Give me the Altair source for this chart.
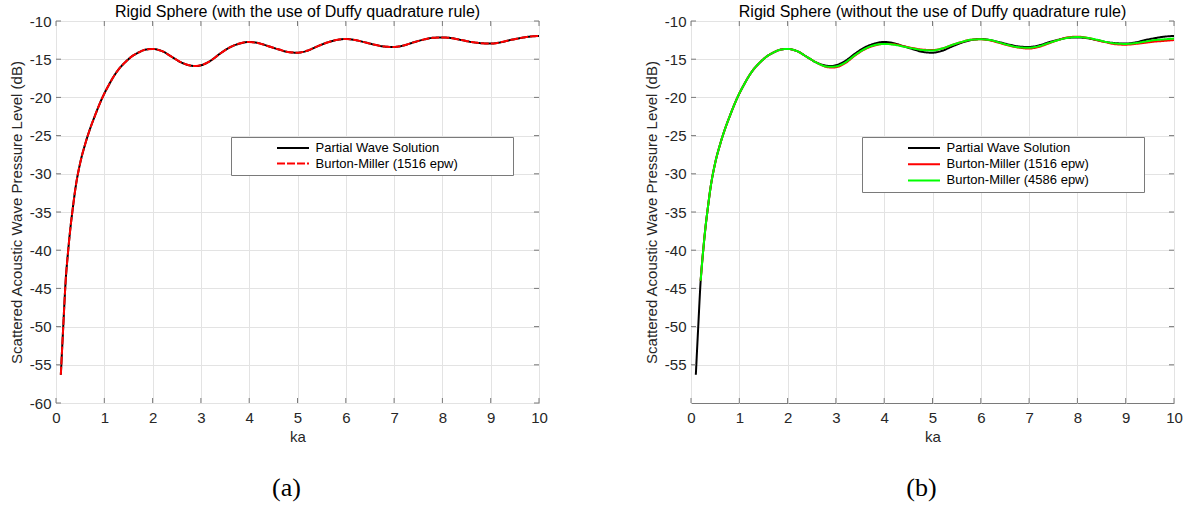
import altair as alt
import pandas as pd

# ---------------------------------------------------------------- data
# ka samples shared by the partial wave solution and the Duffy BEM run
KA = [0.1, 0.15, 0.2, 0.25, 0.3, 0.35, 0.4, 0.5, 0.6, 0.7, 0.8, 0.9, 1.0,
      1.1, 1.2, 1.3, 1.4, 1.5, 1.6, 1.7, 1.8, 1.9, 2.0, 2.1, 2.2, 2.4, 2.6,
      2.8, 2.9, 3.0, 3.2, 3.4, 3.6, 3.8, 4.0, 4.2, 4.4, 4.6, 4.8, 5.0, 5.2,
      5.4, 5.6, 5.8, 6.0, 6.2, 6.4, 6.6, 6.8, 7.0, 7.2, 7.4, 7.6, 7.8, 8.0,
      8.2, 8.4, 8.6, 8.8, 9.0, 9.2, 9.4, 9.6, 9.8, 10.0]

# Partial wave solution (dB)
PARTIAL_WAVE = [-56.3, -50.0, -44.0, -40.2, -37.0, -34.4, -32.0, -28.6, -26.2,
                -24.2, -22.5, -20.9, -19.5, -18.3, -17.2, -16.3, -15.6, -15.0,
                -14.5, -14.15, -13.85, -13.7, -13.65, -13.75, -13.95, -14.7,
                -15.45, -15.85, -15.9, -15.8, -15.2, -14.25, -13.45, -12.95,
                -12.75, -12.9, -13.3, -13.7, -14.05, -14.15, -13.9, -13.35,
                -12.85, -12.5, -12.35, -12.5, -12.8, -13.1, -13.35, -13.4,
                -13.2, -12.8, -12.45, -12.2, -12.15, -12.25, -12.5, -12.75,
                -12.9, -12.95, -12.8, -12.5, -12.25, -12.05, -11.95]

# Burton-Miller with Duffy quadrature, 1516 elements per wavelength (dB)
BM_DUFFY = [-56.3, -50.0, -44.0, -40.2, -37.0, -34.4, -32.0, -28.6, -26.2,
            -24.2, -22.5, -20.9, -19.5, -18.3, -17.2, -16.3, -15.6, -15.0,
            -14.5, -14.15, -13.85, -13.7, -13.65, -13.75, -13.95, -14.7,
            -15.45, -15.85, -15.9, -15.8, -15.2, -14.25, -13.45, -12.95,
            -12.75, -12.9, -13.3, -13.7, -14.05, -14.15, -13.9, -13.35,
            -12.85, -12.5, -12.35, -12.5, -12.8, -13.1, -13.35, -13.4,
            -13.2, -12.8, -12.45, -12.2, -12.15, -12.25, -12.5, -12.75,
            -12.9, -12.95, -12.8, -12.5, -12.25, -12.05, -11.95]

# runs without Duffy quadrature start at ka = 0.2
KA_NO_DUFFY = KA[2:]
RISE_NO_DUFFY = [-44.0, -40.2, -37.0, -34.4, -32.0, -28.6, -26.2, -24.2, -22.5,
                 -20.9, -19.5, -18.3, -17.2, -16.3, -15.6, -15.0, -14.5,
                 -14.15, -13.85, -13.7, -13.65, -13.75, -13.95, -14.7, -15.45]
BM_1516 = RISE_NO_DUFFY + [
    -16.0, -16.1, -16.05, -15.5, -14.5, -13.7, -13.2, -13.0, -13.05, -13.3,
    -13.55, -13.75, -13.8, -13.6, -13.15, -12.75, -12.45, -12.4, -12.55, -12.9,
    -13.25, -13.5, -13.6, -13.4, -12.95, -12.5, -12.15, -12.05, -12.2, -12.5,
    -12.8, -13.05, -13.1, -13.0, -12.85, -12.7, -12.6, -12.5]
BM_4586 = RISE_NO_DUFFY + [
    -15.95, -16.0, -15.95, -15.4, -14.45, -13.65, -13.15, -13.0, -13.1, -13.35,
    -13.6, -13.8, -13.85, -13.6, -13.15, -12.75, -12.45, -12.4, -12.5, -12.85,
    -13.2, -13.45, -13.5, -13.3, -12.9, -12.5, -12.2, -12.1, -12.2, -12.45,
    -12.75, -12.95, -13.0, -12.9, -12.7, -12.5, -12.4, -12.3]

X_TICKS = [0, 1, 2, 3, 4, 5, 6, 7, 8, 9, 10]
Y_TICKS_A = [-60, -55, -50, -45, -40, -35, -30, -25, -20, -15, -10]
Y_TICKS_B = [-55, -50, -45, -40, -35, -30, -25, -20, -15, -10]

NAMES_A = ["Partial Wave Solution", "Burton-Miller (1516 epw)"]
NAMES_B = ["Partial Wave Solution", "Burton-Miller (1516 epw)",
           "Burton-Miller (4586 epw)"]

# ---------------------------------------------------------------- style
FONT = "Liberation Sans"
BOX = "#7a7a7a"
GRID = "#e3e3e3"
TXT = "#262626"
W, H = 483, 382
Y_TITLE = "Scattered Acoustic Wave Pressure Level (dB)"
# blank (non-whitespace) glyphs that widen the legend frame on the right
PAD = "\u2800" * 5


def series(ka, spl, name):
    return pd.DataFrame({"ka": ka, "spl": spl, "series": name})


def panel(title, frames, names, colors, dashes, y_ticks, legend_pos,
          row_pad, caption):
    x_scale = alt.Scale(domain=[0, 10], nice=False, zero=False)
    y_scale = alt.Scale(domain=[-60, -10], nice=False, zero=False)
    common = dict(grid=True, gridColor=GRID, gridWidth=1, domain=False,
                  ticks=False, tickSize=0, labelFont=FONT, labelFontSize=15,
                  labelColor=TXT, labelFlush=False, labelOverlap=False,
                  labelExpr="'' + datum.value", titleFont=FONT,
                  titleFontSize=15, titleFontWeight="normal", titleColor=TXT)
    x_axis = alt.Axis(values=X_TICKS, title="ka", labelPadding=7,
                      titlePadding=4, **common)
    y_axis = alt.Axis(values=y_ticks, title=Y_TITLE, labelPadding=5,
                      titlePadding=5, **common)
    legend = alt.Legend(
        title=None, orient="none", legendX=legend_pos[0],
        legendY=legend_pos[1], fillColor="white", strokeColor=BOX,
        padding=4.5, symbolType="M-3.2,0H3.2", symbolSize=100,
        symbolStrokeWidth=2, symbolOffset=51, labelOffset=16,
        labelFont=FONT, labelFontSize=13, labelColor="black",
        labelLimit=800, rowPadding=row_pad,
        labelExpr=f"datum.label + '{PAD}'")
    color = alt.Color("series:N", legend=legend,
                      scale=alt.Scale(domain=names, range=colors))
    dash = alt.StrokeDash("series:N", legend=legend,
                          scale=alt.Scale(domain=names, range=dashes))
    x_enc = alt.X("ka:Q", scale=x_scale, axis=x_axis)
    y_enc = alt.Y("spl:Q", scale=y_scale, axis=y_axis)

    lines = [
        alt.Chart(df).mark_line(strokeWidth=2, interpolate="monotone")
        .encode(x=x_enc, y=y_enc, color=color, strokeDash=dash)
        for df in frames
    ]

    # inward tick marks on all four sides of the box
    xt = pd.DataFrame({"ka": X_TICKS})
    yt = pd.DataFrame({"spl": y_ticks})
    tick = dict(color=BOX, strokeWidth=1)
    ticks = [
        alt.Chart(xt).mark_rule(**tick).encode(
            x=x_enc, y=alt.value(H), y2=alt.value(H - 5)),
        alt.Chart(xt).mark_rule(**tick).encode(
            x=x_enc, y=alt.value(0), y2=alt.value(5)),
        alt.Chart(yt).mark_rule(**tick).encode(
            y=y_enc, x=alt.value(0), x2=alt.value(5)),
        alt.Chart(yt).mark_rule(**tick).encode(
            y=y_enc, x=alt.value(W - 5), x2=alt.value(W)),
    ]

    cap = alt.Chart(pd.DataFrame({"label": [caption]})).mark_text(
        font="Liberation Serif", fontSize=26, color="black",
        align="center", baseline="middle",
    ).encode(text="label:N", x=alt.value(W / 2 - 11), y=alt.value(467))

    return alt.layer(*lines, *ticks, cap).properties(
        width=W, height=H,
        title=alt.TitleParams(title, font=FONT, fontSize=16,
                              fontWeight="normal", color="black", offset=-6,
                              anchor="middle"),
    )


panel_a = panel(
    "Rigid Sphere (with the use of Duffy quadrature rule)",
    [series(KA, PARTIAL_WAVE, NAMES_A[0]), series(KA, BM_DUFFY, NAMES_A[1])],
    NAMES_A, ["#000000", "#ff0000"], [[1, 0], [8, 2]],
    Y_TICKS_A, (175, 116), 1.5, "(a)")

panel_b = panel(
    "Rigid Sphere (without the use of Duffy quadrature rule)",
    [series(KA, PARTIAL_WAVE, NAMES_B[0]),
     series(KA_NO_DUFFY, BM_1516, NAMES_B[1]),
     series(KA_NO_DUFFY, BM_4586, NAMES_B[2])],
    NAMES_B, ["#000000", "#ff0000", "#00ff00"], [[1, 0], [1, 0], [1, 0]],
    Y_TICKS_B, (171, 116), 2.2, "(b)")

chart = (
    alt.hconcat(panel_a, panel_b, spacing=95)
    .resolve_scale(color="independent", strokeDash="independent")
    .resolve_legend(color="independent", strokeDash="independent")
    .configure_view(stroke=BOX, strokeWidth=1)
    .properties(padding={"left": 8, "top": 3, "right": 0, "bottom": 0},
                background="white")
)

chart.save("out.html", embed_options={"renderer": "svg", "actions": False})
